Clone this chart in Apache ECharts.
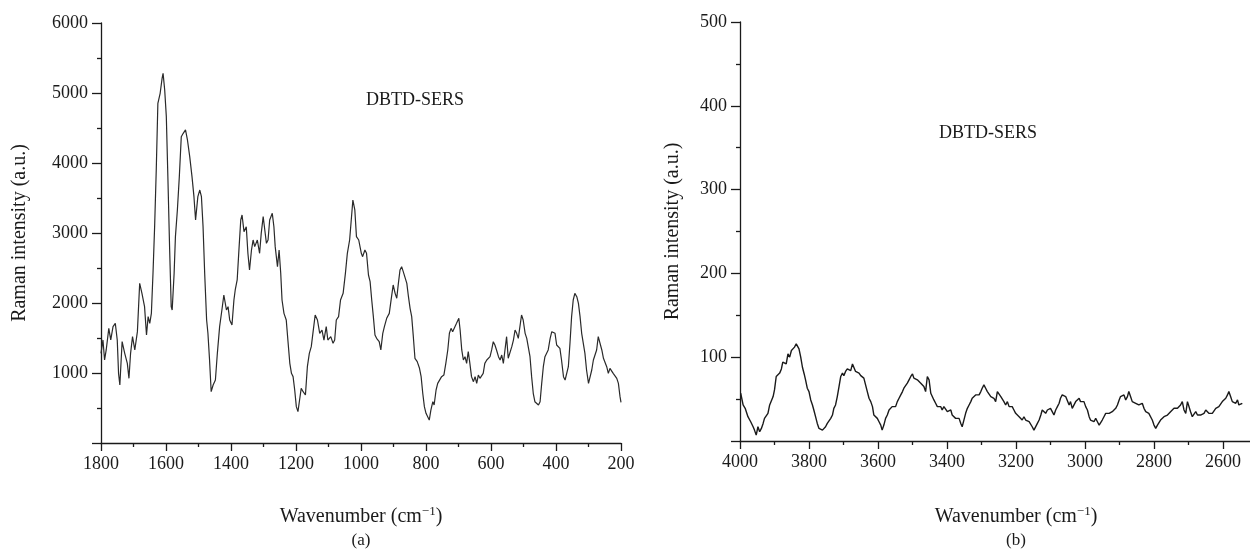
<!DOCTYPE html>
<html>
<head>
<meta charset="utf-8">
<script src="https://cdn.jsdelivr.net/npm/echarts@6/dist/echarts.min.js"></script>
<style>
  html, body { margin: 0; padding: 0; background: #fff; }
  #charts_main { width: 1250px; height: 556px; }
</style>
</head>
<body>
<div id="charts_main"></div>
<script>
// [wavenumber, intensity]
const spectrumA = [
  [1800,1281],[1794,1472],[1789,1186],[1784,1329],[1776,1638],[1770,1472],[1763,1662],[1756,1710],[1750,1472],[1746,995],
  [1742,829],[1735,1448],[1727,1281],[1719,1138],[1714,924],[1709,1281],[1703,1519],[1696,1329],[1688,1591],[1681,2281],
  [1674,2138],[1666,1948],[1660,1543],[1655,1805],[1650,1710],[1645,1853],[1640,2424],[1635,3091],[1630,3900],[1625,4853],
  [1618,4996],[1612,5210],[1609,5281],[1604,5043],[1599,4662],[1594,3757],[1589,2805],[1584,1948],[1581,1900],[1575,2424],
  [1571,2948],[1565,3329],[1559,3805],[1553,4376],[1547,4424],[1540,4472],[1534,4329],[1527,4091],[1520,3805],[1514,3519],
  [1509,3186],[1502,3519],[1496,3614],[1491,3519],[1486,3091],[1481,2424],[1475,1757],[1471,1567],[1466,1186],[1461,733],
  [1455,829],[1448,900],[1442,1281],[1435,1662],[1428,1900],[1422,2114],[1414,1900],[1409,1948],[1404,1757],
  [1397,1686],[1391,2043],[1387,2186],[1381,2329],[1375,2805],[1370,3186],[1366,3257],[1360,3019],[1353,3090],[1348,2710],
  [1343,2471],[1337,2757],[1332,2900],[1327,2805],[1319,2900],[1312,2710],[1307,2995],[1301,3233],[1296,3043],[1291,2852],
  [1286,2900],[1281,3186],[1273,3281],[1268,3090],[1264,2805],[1257,2519],[1252,2757],[1247,2424],[1243,2043],[1237,1852],
  [1230,1757],[1225,1471],[1219,1138],[1214,995],[1209,948],[1204,757],[1199,519],[1194,448],[1189,614],[1184,781],
  [1178,733],[1171,686],[1165,1090],[1159,1281],[1153,1376],[1148,1567],[1141,1829],[1134,1757],[1127,1567],[1120,1614],
  [1114,1471],[1107,1662],[1102,1471],[1093,1519],[1086,1424],[1081,1471],[1076,1757],[1069,1805],[1063,2043],[1055,2138],
  [1048,2424],[1042,2710],[1035,2900],[1030,3186],[1025,3471],[1019,3329],[1014,2948],[1007,2900],[999,2710],
  [995,2662],[988,2757],[983,2710],[977,2400],[972,2305],[967,2043],[962,1805],[957,1543],[952,1495],[944,1448],
  [939,1329],[933,1567],[928,1662],[921,1781],[913,1852],[906,2090],[901,2257],[895,2138],[890,2067],[885,2281],
  [880,2471],[875,2519],[870,2448],[865,2471],[859,2281],[854,2090],[849,1924],[844,1805],[839,1519],[834,1210],
  [827,1162],[820,1067],[815,948],[810,710],[805,519],[800,424],[795,424],[790,328],[785,471],[779,590],
  [775,543],[769,757],[764,852],[759,829],[752,948],[745,971],[739,1138],[733,1329],[728,1567],[723,1638],
  [718,1590],[711,1662],[706,1710],[699,1781],[695,1614],[690,1329],[685,1186],[680,1233],[675,1138],[670,1305],
  [665,1138],[660,948],[654,876],[649,948],[644,852],[639,971],[634,924],[629,924],[624,995],[619,1138],
  [613,1186],[608,1162],[603,1233],[598,1329],[593,1448],[588,1400],[583,1329],[577,1233],[572,1186],[567,1257],
  [562,1138],[557,1329],[552,1519],[547,1210],[542,1233],[536,1376],[531,1471],[526,1614],[521,1567],[516,1495],
  [511,1662],[506,1829],[501,1757],[495,1567],[490,1495],[485,1471],[480,1233],[475,948],[470,710],[465,590],
  [459,614],[454,543],[449,590],[444,852],[439,1090],[434,1233],[429,1210],[424,1329],[418,1495],[413,1590],
  [408,1614],[403,1567],[398,1400],[393,1376],[388,1352],[383,1186],[377,948],[372,900],[367,924],[362,1090],
  [357,1424],[352,1805],[347,2043],[342,2138],[336,2090],[331,1995],[326,1805],[321,1567],[316,1424],[311,1281],
  [306,1043],[300,852],[295,829],[290,1043],[285,1186],[280,1162],[275,1329],[270,1519],[265,1495],[259,1329],
  [254,1210],[249,1186],[244,1090],[239,995],[234,1067],[229,1090],[224,995],[218,995],[213,924],[208,852],
  [203,662],[200,580]
];

// [wavenumber, intensity]
const spectrumB = [
  [3998,57],[3991,43],[3985,39],[3977,29],[3969,23],[3962,17],[3958,13],[3953,7],[3948,17],[3943,11],
  [3938,15],[3933,21],[3929,27],[3924,29],[3919,33],[3914,43],[3909,45],[3904,53],[3900,61],[3895,77],
  [3890,78],[3885,81],[3880,86],[3876,94],[3871,96],[3866,92],[3861,104],[3856,100],[3851,108],[3846,110],
  [3842,112],[3837,116],[3834,118],[3829,110],[3824,100],[3819,88],[3814,80],[3810,73],[3805,63],[3800,59],
  [3795,49],[3790,43],[3786,37],[3781,29],[3776,21],[3771,15],[3766,17],[3761,13],[3757,11],[3752,17],
  [3747,21],[3742,19],[3737,27],[3732,31],[3728,39],[3723,43],[3718,53],[3713,65],[3708,77],[3703,81],
  [3699,78],[3694,83],[3689,86],[3684,88],[3679,84],[3674,92],[3670,90],[3665,83],[3660,84],[3655,81],
  [3650,78],[3646,77],[3641,75],[3636,67],[3631,59],[3626,51],[3621,47],[3616,41],[3612,31],[3607,29],
  [3602,27],[3597,23],[3592,19],[3588,13],[3583,19],[3578,27],[3573,31],[3568,37],[3563,39],[3559,41],
  [3554,43],[3549,41],[3544,47],[3539,51],[3534,55],[3529,59],[3525,63],[3520,65],[3515,69],[3510,73],
  [3505,77],[3500,80],[3496,75],[3491,77],[3486,73],[3481,75],[3476,69],[3472,71],[3467,65],[3462,59],
  [3457,77],[3452,73],[3447,57],[3443,55],[3438,49],[3433,45],[3428,41],[3423,39],[3418,41],[3414,37],
  [3409,41],[3404,39],[3399,35],[3394,33],[3389,37],[3385,31],[3380,29],[3375,27],[3370,25],[3365,27],
  [3360,21],[3356,17],[3351,25],[3346,33],[3341,39],[3336,43],[3331,47],[3327,51],[3322,53],[3317,55],
  [3312,57],[3307,55],[3302,59],[3298,63],[3293,67],[3288,63],[3283,59],[3278,57],[3273,53],[3269,55],
  [3264,51],[3259,47],[3254,59],[3249,57],[3244,53],[3240,51],[3235,47],[3230,43],[3225,47],[3220,41],
  [3215,43],[3211,41],[3206,37],[3201,33],[3196,31],[3191,29],[3186,27],[3182,25],[3177,29],[3172,25],
  [3167,27],[3162,23],[3157,21],[3153,17],[3148,13],[3143,11],[3138,21],[3133,25],[3128,31],[3124,37],
  [3119,39],[3114,33],[3109,37],[3104,35],[3100,39],[3095,35],[3090,31],[3085,37],[3080,41],[3075,45],
  [3071,51],[3066,55],[3061,57],[3056,53],[3051,51],[3046,43],[3042,47],[3037,39],[3032,41],[3027,47],
  [3022,49],[3017,51],[3013,47],[3008,49],[3003,47],[2998,41],[2993,37],[2988,29],[2984,25],[2979,27],
  [2974,23],[2969,27],[2964,23],[2959,19],[2955,21],[2950,25],[2945,29],[2940,33],[2935,31],[2930,33],
  [2926,35],[2921,35],[2916,33],[2911,39],[2906,43],[2901,49],[2897,53],[2892,51],[2887,55],[2882,49],
  [2877,53],[2873,59],[2868,53],[2863,47],[2858,49],[2853,45],[2848,47],[2844,43],[2839,41],[2834,45],
  [2829,39],[2824,35],[2819,37],[2815,33],[2810,31],[2805,25],[2800,19],[2795,15],[2790,19],[2785,21],
  [2781,25],[2776,27],[2771,29],[2766,27],[2761,31],[2757,29],[2752,35],[2747,37],[2742,39],[2737,37],
  [2732,39],[2727,37],[2723,43],[2718,47],[2713,37],[2708,33],[2703,47],[2698,49],[2694,35],[2689,29],
  [2684,31],[2679,35],[2674,31],[2670,33],[2665,31],[2660,29],[2655,33],[2650,37],[2645,39],[2641,33],
  [2636,31],[2631,33],[2626,35],[2621,39],[2616,37],[2612,41],[2607,43],[2602,47],[2597,49],[2592,51],
  [2587,55],[2583,59],[2578,53],[2573,47],[2568,49],[2563,45],[2558,49],[2554,43],[2549,45],[2544,45]
];

const panelTitle = 'DBTD-SERS';
const yName = 'Raman intensity (a.u.)';
const xName = 'Wavenumber (cm{sup|\u22121})';

const serif = 'Liberation Serif';
const ink = '#1a1a1a';

function init() {
  let Chart = echarts.init(document.getElementById('charts_main'));

  const lineCol = { color: ink, width: 1.3 };
  const nameStyle = {
    fontFamily: serif, fontSize: 20, color: ink,
    rich: { sup: { fontFamily: serif, fontSize: 13, color: ink, padding: [0, 0, 10, 0] } }
  };
  const labelStyle = { fontFamily: serif, fontSize: 18, color: ink };
  const plain = v => String(v);
  const hideZero = v => (v === 0 ? '' : String(v));

  let option = {
    animation: false,
    backgroundColor: '#fff',
    title: [
      { text: panelTitle, left: 361, top: 86, textStyle: { fontFamily: serif, fontSize: 18, fontWeight: 'normal', color: ink } },
      { text: panelTitle, left: 934, top: 119, textStyle: { fontFamily: serif, fontSize: 18, fontWeight: 'normal', color: ink } }
    ],
    graphic: [
      { type: 'text', x: 361, y: 541, style: { text: '(a)', font: '17px "Liberation Serif"', fill: ink, textAlign: 'center', textVerticalAlign: 'middle' } },
      { type: 'text', x: 1016, y: 541, style: { text: '(b)', font: '17px "Liberation Serif"', fill: ink, textAlign: 'center', textVerticalAlign: 'middle' } }
    ],
    grid: [
      { left: 101, top: 23, width: 520, height: 420, outerBoundsMode: 'none' },
      { left: 740, top: 22, width: 552, height: 419, outerBoundsMode: 'none' }
    ],
    xAxis: [
      {
        type: 'value', gridIndex: 0, min: 200, max: 1800, interval: 200, inverse: true,
        axisLine: { onZero: false, lineStyle: lineCol },
        axisTick: { length: 8, lineStyle: lineCol },
        minorTick: { show: true, splitNumber: 2, length: 4, lineStyle: lineCol },
        splitLine: { show: false },
        axisLabel: Object.assign({ margin: 12, formatter: plain }, labelStyle),
        name: xName, nameLocation: 'middle', nameGap: 62, nameTextStyle: nameStyle
      },
      {
        type: 'value', gridIndex: 1, min: 2400, max: 4000, interval: 200, inverse: true,
        axisLine: { onZero: false, lineStyle: lineCol },
        axisTick: { length: 8, lineStyle: lineCol },
        minorTick: { show: true, splitNumber: 2, length: 4, lineStyle: lineCol },
        splitLine: { show: false },
        axisLabel: Object.assign({ margin: 12, formatter: plain }, labelStyle),
        name: xName, nameLocation: 'middle', nameGap: 64, nameTextStyle: nameStyle
      }
    ],
    yAxis: [
      {
        type: 'value', gridIndex: 0, min: 0, max: 6000, interval: 1000,
        axisLine: { show: true, onZero: false, lineStyle: lineCol },
        axisTick: { show: true, length: 9, lineStyle: lineCol },
        minorTick: { show: true, splitNumber: 2, length: 4, lineStyle: lineCol },
        splitLine: { show: false },
        axisLabel: Object.assign({ margin: 13, formatter: hideZero }, labelStyle),
        name: yName, nameLocation: 'middle', nameGap: 71, nameTextStyle: nameStyle
      },
      {
        type: 'value', gridIndex: 1, min: 0, max: 500, interval: 100,
        axisLine: { show: true, onZero: false, lineStyle: lineCol },
        axisTick: { show: true, length: 9, lineStyle: lineCol },
        minorTick: { show: true, splitNumber: 2, length: 4, lineStyle: lineCol },
        splitLine: { show: false },
        axisLabel: Object.assign({ margin: 13, formatter: hideZero }, labelStyle),
        name: yName, nameLocation: 'middle', nameGap: 57, nameTextStyle: nameStyle
      }
    ],
    series: [
      {
        name: 'a', type: 'line', xAxisIndex: 0, yAxisIndex: 0, data: spectrumA,
        showSymbol: false, symbol: 'none', lineStyle: { color: '#2a2a2a', width: 1.2 }
      },
      {
        name: 'b', type: 'line', xAxisIndex: 1, yAxisIndex: 1, data: spectrumB,
        showSymbol: false, symbol: 'none', lineStyle: { color: '#1a1a1a', width: 1.4 }
      }
    ]
  };
  Chart.setOption(option);
}

init();
</script>
</body>
</html>
